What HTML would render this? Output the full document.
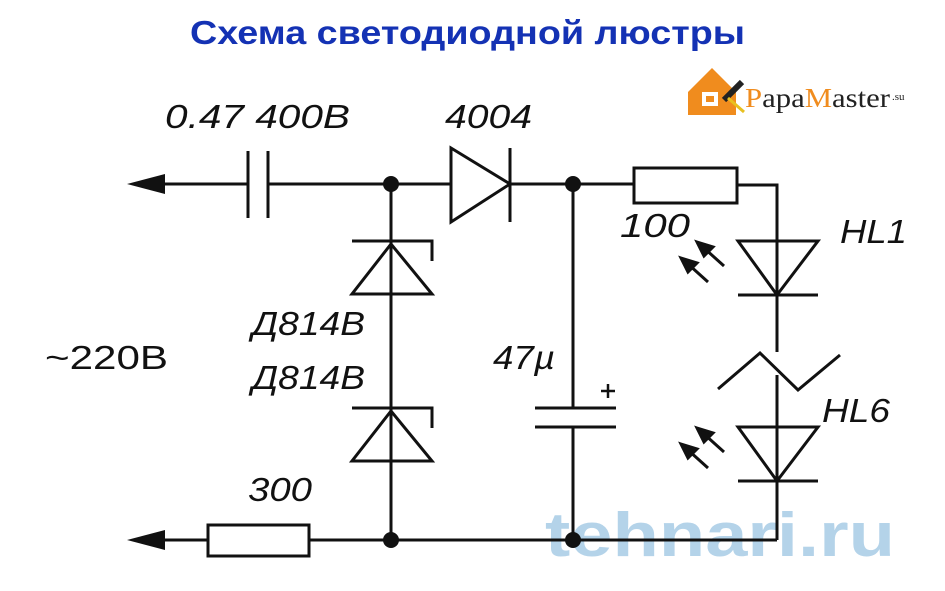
<!DOCTYPE html>
<html><head><meta charset="utf-8"><style>
body{margin:0;background:#fff;width:945px;height:591px;overflow:hidden}
svg{display:block}
.t{font-family:"Liberation Sans","DejaVu Sans",sans-serif;font-style:italic;font-size:33px;fill:#111}
</style></head><body>
<svg width="945" height="591" viewBox="0 0 945 591">
<text x="190" y="44" textLength="555" lengthAdjust="spacingAndGlyphs" font-family="Liberation Sans,sans-serif" font-weight="bold" font-size="33" fill="#1432b4">Схема светодиодной люстры</text>
<g>
<polygon points="688,92 712,68 736,92 736,115 688,115" fill="#f08c1e"/>
<rect x="702" y="92" width="16" height="14" fill="#fff"/><rect x="706" y="96" width="8" height="6" fill="#f08c1e"/>
<line x1="724" y1="100" x2="742" y2="82" stroke="#222" stroke-width="6"/>
<line x1="728" y1="98" x2="744" y2="112" stroke="#e8c020" stroke-width="3"/>
<text x="745" y="107" textLength="145" lengthAdjust="spacingAndGlyphs" font-family="Liberation Serif,serif" font-size="27" fill="#222"><tspan fill="#f08c1e">P</tspan>apa<tspan fill="#f08c1e">M</tspan>aster</text>
<text x="892" y="100" font-family="Liberation Serif,serif" font-size="11" fill="#222">.su</text>
</g>
<text x="545" y="556" textLength="350" lengthAdjust="spacingAndGlyphs" font-family="Liberation Sans,sans-serif" font-weight="bold" font-size="62" fill="#a8cce6" opacity="0.85">tehnari.ru</text>
<g stroke="#111" stroke-width="3" fill="none">
<line x1="150" y1="184" x2="248" y2="184"/>
<line x1="248" y1="151" x2="248" y2="218"/>
<line x1="268" y1="151" x2="268" y2="218"/>
<line x1="268" y1="184" x2="634" y2="184"/>
<polygon points="451,148 451,222 510,184" fill="#fff"/>
<line x1="510" y1="148" x2="510" y2="222"/>
<rect x="634" y="168" width="103" height="35" fill="#fff"/>
<polyline points="737,185 777,185 777,352"/>
<line x1="391" y1="184" x2="391" y2="540"/>
<polyline points="352,241 432,241 432,261"/>
<polygon points="391,244 352,294 432,294"/>
<polyline points="352,408 432,408 432,428"/>
<polygon points="391,411 352,461 432,461"/>
<line x1="573" y1="184" x2="573" y2="408"/>
<line x1="535" y1="408" x2="616" y2="408"/>
<line x1="535" y1="427" x2="616" y2="427"/>
<line x1="573" y1="427" x2="573" y2="540"/>
<line x1="601" y1="391" x2="615" y2="391" stroke-width="2.5"/>
<line x1="608" y1="384" x2="608" y2="398" stroke-width="2.5"/>
<line x1="150" y1="540" x2="208" y2="540"/>
<rect x="208" y="525" width="101" height="31" fill="none"/>
<line x1="309" y1="540" x2="777" y2="540"/>
<line x1="738" y1="241" x2="818" y2="241"/>
<polygon points="738,241 818,241 777,295"/>
<line x1="738" y1="295" x2="818" y2="295"/>
<polyline points="718,389 760,353 798,390 840,355"/>
<line x1="777" y1="375" x2="777" y2="540"/>
<polygon points="738,427 818,427 777,481"/>
<line x1="738" y1="481" x2="818" y2="481"/>
</g>
<g fill="#111">
<polygon points="127,184 165,174 165,194"/>
<polygon points="127,540 165,530 165,550"/>
<circle cx="391" cy="184" r="8"/><circle cx="573" cy="184" r="8"/>
<circle cx="391" cy="540" r="8"/><circle cx="573" cy="540" r="8"/>
</g>
<g stroke="#111" stroke-width="3" fill="#111">
<line x1="724" y1="266" x2="704" y2="248"/><polygon points="697,242 713,247 704,256"/>
<line x1="708" y1="282" x2="688" y2="264"/><polygon points="681,258 697,263 688,272"/>
<line x1="724" y1="452" x2="704" y2="434"/><polygon points="697,428 713,433 704,442"/>
<line x1="708" y1="468" x2="688" y2="450"/><polygon points="681,444 697,449 688,458"/>
</g>
<text class="t" x="165" y="128" textLength="185" lengthAdjust="spacingAndGlyphs">0.47 400B</text>
<text class="t" x="445" y="128" textLength="87" lengthAdjust="spacingAndGlyphs">4004</text>
<text class="t" x="620" y="237" textLength="70" lengthAdjust="spacingAndGlyphs">100</text>
<text class="t" x="840" y="243" textLength="67" lengthAdjust="spacingAndGlyphs">HL1</text>
<text class="t" x="252" y="335" textLength="113" lengthAdjust="spacingAndGlyphs">Д814B</text>
<text class="t" x="252" y="389" textLength="113" lengthAdjust="spacingAndGlyphs">Д814B</text>
<text x="45" y="369" textLength="123" lengthAdjust="spacingAndGlyphs" font-family="Liberation Sans,sans-serif" font-size="33" fill="#111">~220B</text>
<text class="t" x="493" y="369" textLength="62" lengthAdjust="spacingAndGlyphs">47µ</text>
<text class="t" x="822" y="422" textLength="68" lengthAdjust="spacingAndGlyphs">HL6</text>
<text class="t" x="248" y="501" textLength="64" lengthAdjust="spacingAndGlyphs">300</text>
</svg>
</body></html>
